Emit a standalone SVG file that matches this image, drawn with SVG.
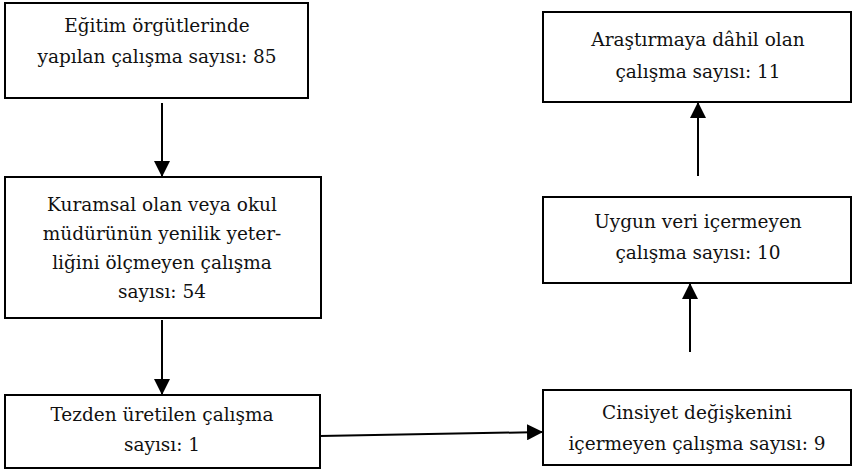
<svg xmlns="http://www.w3.org/2000/svg" width="853" height="470" viewBox="0 0 853 470">
<style>
.box{fill:#fff;stroke:#000;stroke-width:2}
.t{font-family:'DejaVu Serif',serif;font-size:18.5px;fill:#111;text-anchor:middle}
.c{stroke:#000;stroke-width:2;fill:none}
</style>
<defs>
<marker id="ahb" viewBox="0 0 10 10" refX="10" refY="5" markerWidth="16" markerHeight="16" markerUnits="userSpaceOnUse" orient="auto">
<path d="M0,0 L10,5 L0,10 z" fill="#000"/>
</marker>
</defs>
<rect width="853" height="470" fill="#fff"/>
<g id="n1"><rect class="box" x="5" y="3" width="303" height="95"/>
<text class="t" x="157" y="32">Eğitim örgütlerinde</text>
<text class="t" x="157" y="63">yapılan çalışma sayısı: 85</text></g>
<g id="n2"><rect class="box" x="5" y="177" width="316" height="141"/>
<text class="t" x="162" y="211">Kuramsal olan veya okul</text>
<text class="t" x="162" y="240">müdürünün yenilik yeter-</text>
<text class="t" x="162" y="269">liğini ölçmeyen çalışma</text>
<text class="t" x="162" y="298">sayısı: 54</text></g>
<g id="n3"><rect class="box" x="5" y="395" width="315" height="73"/>
<text class="t" x="162" y="421">Tezden üretilen çalışma</text>
<text class="t" x="162" y="451">sayısı: 1</text></g>
<g id="n4"><rect class="box" x="543" y="390" width="308" height="75"/>
<text class="t" x="697" y="419">Cinsiyet değişkenini</text>
<text class="t" x="697" y="450">içermeyen çalışma sayısı: 9</text></g>
<g id="n5"><rect class="box" x="543" y="197" width="308" height="86"/>
<text class="t" x="698" y="228">Uygun veri içermeyen</text>
<text class="t" x="698" y="259">çalışma sayısı: 10</text></g>
<g id="n6"><rect class="box" x="543" y="12" width="308" height="90"/>
<text class="t" x="698" y="46">Araştırmaya dâhil olan</text>
<text class="t" x="698" y="78">çalışma sayısı: 11</text></g>
<g id="connectors">
<line class="c" x1="162" y1="103" x2="162" y2="177" marker-end="url(#ahb)"/>
<line class="c" x1="162" y1="320" x2="162" y2="395" marker-end="url(#ahb)"/>
<line class="c" x1="320" y1="436" x2="543" y2="432" marker-end="url(#ahb)"/>
<line class="c" x1="690" y1="352" x2="690" y2="283" marker-end="url(#ahb)"/>
<line class="c" x1="698" y1="176" x2="698" y2="102" marker-end="url(#ahb)"/>
</g>
</svg>
